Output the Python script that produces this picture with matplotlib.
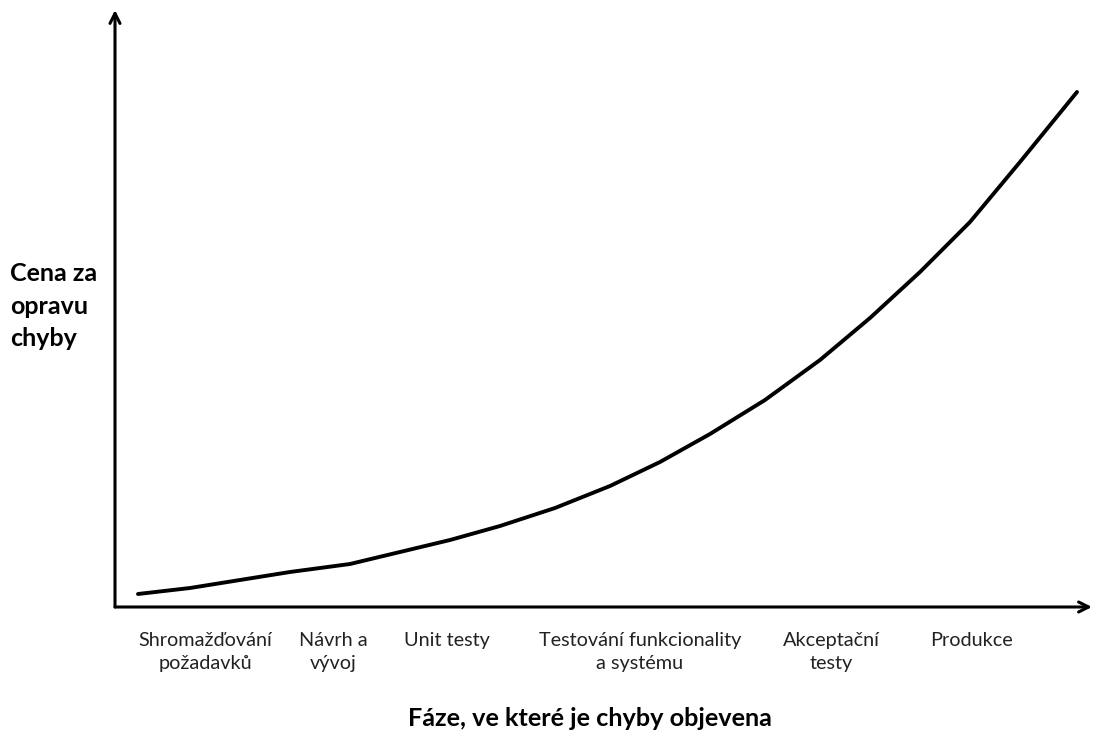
import matplotlib
matplotlib.use("Agg")
import matplotlib.pyplot as plt

plt.rcParams['font.family'] = ['Lato', 'DejaVu Sans']

# Phase positions (label centres) and labels
phase_pos = [0.90, 2.18, 3.32, 5.25, 7.16, 8.57]
phase_labels = ["Shromažďování\npožadavků", "Návrh a\nvývoj", "Unit testy",
                "Testování funkcionality\na systému", "Akceptační\ntesty", "Produkce"]

# Cost curve (arbitrary units)
curve_x = [0.23, 0.75, 1.25, 1.75, 2.35, 2.85, 3.35, 3.85, 4.40, 4.95,
           5.45, 5.95, 6.50, 7.05, 7.55, 8.05, 8.55, 9.05, 9.62]
curve_y = [0.13, 0.19, 0.27, 0.35, 0.43, 0.55, 0.67, 0.81, 0.99, 1.21,
           1.45, 1.73, 2.07, 2.47, 2.89, 3.35, 3.85, 4.45, 5.15]

W, H = 1094, 733
fig = plt.figure(figsize=(W / 100, H / 100), dpi=100)
ax = fig.add_axes([115 / W, (H - 607) / H, 977 / W, 597 / H])
ax.set_xlim(0, 9.77)
ax.set_ylim(0, 5.97)
for s in ax.spines.values():
    s.set_visible(False)

ax.plot(curve_x, curve_y, color='black', lw=2.8, solid_capstyle='round',
        solid_joinstyle='round')

# axis arrows
ax.annotate('', xy=(1.0, 0), xytext=(0, 0), xycoords='axes fraction',
            arrowprops=dict(arrowstyle='->', lw=2.2, color='black',
                            mutation_scale=18, shrinkA=0, shrinkB=0))
ax.annotate('', xy=(0, 1.0), xytext=(0, 0), xycoords='axes fraction',
            arrowprops=dict(arrowstyle='->', lw=2.2, color='black',
                            mutation_scale=18, shrinkA=0, shrinkB=0))

ax.set_xticks(phase_pos)
ax.set_xticklabels(phase_labels, fontsize=14.3, color='#222222', linespacing=1.4)
ax.tick_params(axis='x', length=0, pad=18)
ax.set_yticks([])

fig.text(590 / W, 1 - 718 / H, "Fáze, ve které je chyby objevena",
         ha='center', va='center', fontsize=18.2, fontweight='bold')
fig.text(10 / W, 1 - 306 / H, "Cena za\nopravu\nchyby", ha='left', va='center',
         fontsize=18, fontweight='bold', linespacing=1.5)

fig.savefig("out.png", dpi=100)
